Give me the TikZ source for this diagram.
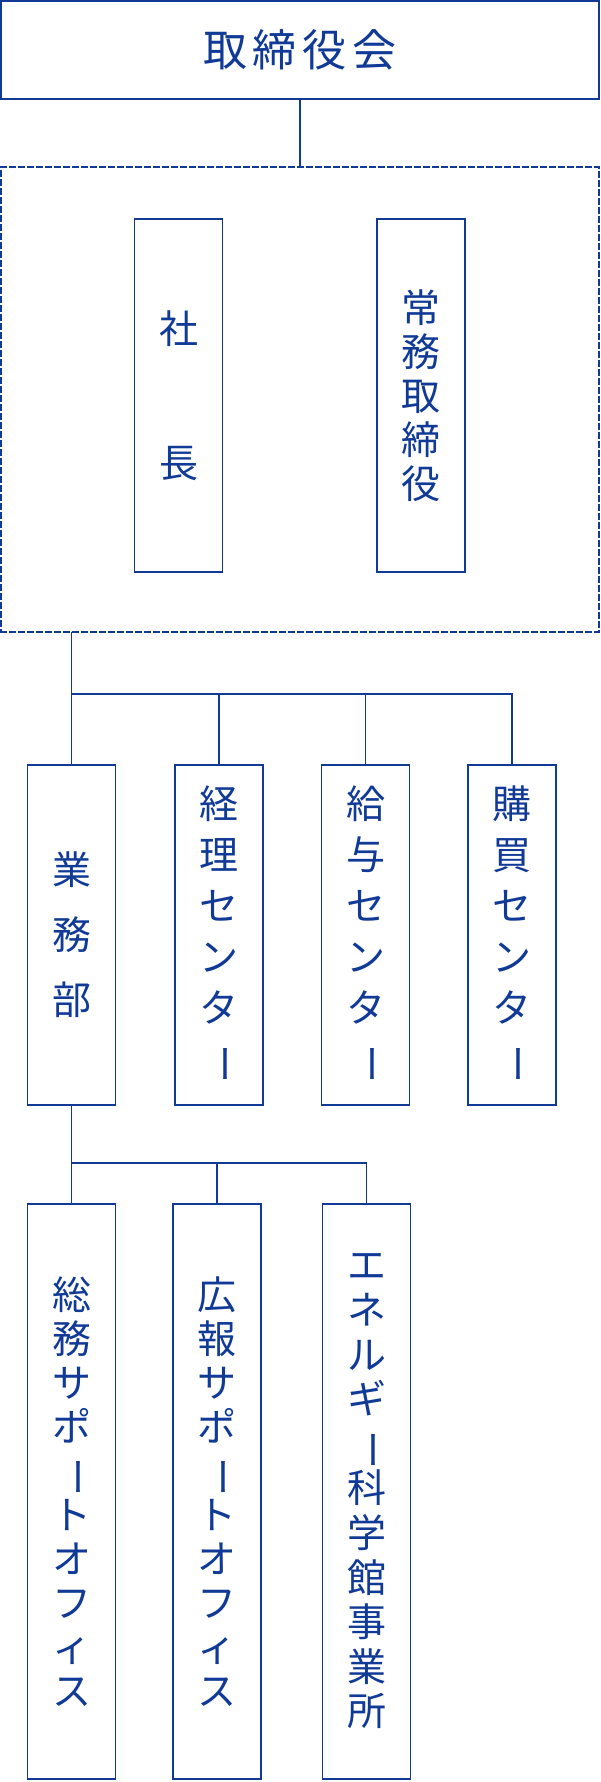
\documentclass[tikz,border=0pt]{standalone}
\usepackage{fontspec}
\setmainfont{Noto Sans CJK JP}
\usetikzlibrary{positioning}
\definecolor{orgblue}{RGB}{16,58,150}
\newcommand{\tate}{\rotatebox[origin=c]{-90}{ー}}

\begin{document}
\begin{tikzpicture}[line cap=rect,line join=miter,x=1pt,y=-1pt,
  conn/.style={draw=orgblue,line width=1.8pt},
  unit/.style={draw=orgblue,line width=1.8pt,text=orgblue,minimum width=88pt,align=center,inner sep=0pt},
  col/.style={font=\fontsize{39}{#1}\selectfont},
  col/.default=44]

		% page
		\useasboundingbox (0,0) rectangle (600,1782);

		% board
		\node[unit,minimum width=598pt,minimum height=98pt,font=\fontsize{44}{50}\selectfont] (board) at (300,50)
		  {取\hspace{6pt}締\hspace{6pt}役\hspace{6pt}会};

		% executives
		\node[draw=orgblue,line width=1.8pt,dash pattern=on 5pt off 4pt,minimum width=598pt,minimum height=465pt] (exec) at (300,399.5) {};
		\node[unit,minimum height=353pt,col=44] (pres) at (178.5,395.5) {社\\[90pt]長};
		\node[unit,minimum height=353pt,col=44] (jomu) at (421,395.5) {常\\務\\取\\締\\役};

		\draw[conn] (board.south) -- (exec.north);

		% departments
		\node[unit,minimum height=339.5pt,col=65] (gyomu) at (71.5,935) {業\\務\\部};
		\node[unit,minimum height=339.5pt,col=50.8] (keiri) at (219,935) {経\\理\\セ\\ン\\タ\\\tate};
		\node[unit,minimum height=339.5pt,col=50.8] (kyuyo) at (365.5,935) {給\\与\\セ\\ン\\タ\\\tate};
		\node[unit,minimum height=339.5pt,col=50.8] (kobai) at (512,935) {購\\買\\セ\\ン\\タ\\\tate};

		\coordinate (bus1) at (71.5,693.6);
		\draw[conn] (exec.south -| gyomu.north) -- (gyomu.north);
		\draw[conn] (bus1) -| (keiri.north);
		\draw[conn] (bus1) -| (kyuyo.north);
		\draw[conn] (bus1) -| (kobai.north);

		% offices
		\node[unit,minimum height=575pt,col=44] (somu) at (71.5,1491.5) {総\\務\\サ\\ポ\\\tate\\ト\\オ\\フ\\ィ\\ス};
		\node[unit,minimum height=575pt,col=44] (koho) at (217,1491.5) {広\\報\\サ\\ポ\\\tate\\ト\\オ\\フ\\ィ\\ス};
		\node[unit,minimum height=575pt,col=44.6] (kagaku) at (366.5,1491.5) {エ\\ネ\\ル\\ギ\\\tate\\科\\学\\館\\事\\業\\所};

		\coordinate (bus2) at (71.5,1162.6);
		\draw[conn] (gyomu.south) -- (somu.north);
		\draw[conn] (bus2) -| (koho.north);
		\draw[conn] (bus2) -| (kagaku.north);

	\end{tikzpicture}
\end{document}
